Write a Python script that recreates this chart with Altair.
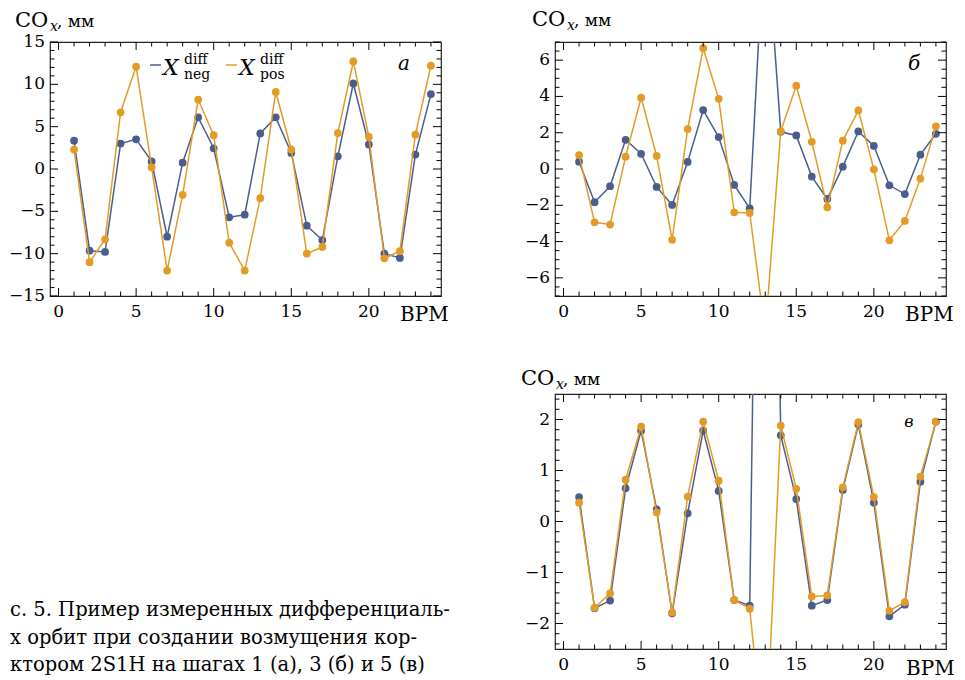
import altair as alt
import pandas as pd

# ---------------- data ----------------
bpm = list(range(1, 25))

a_neg = [3.35, -9.65, -9.8, 3.0, 3.5, 0.9, -8.0, 0.75, 6.1, 2.45, -5.7, -5.4,
         4.2, 6.1, 1.9, -6.7, -8.4, 1.5, 10.1, 2.9, -10.0, -10.5, 1.7, 8.85]
a_pos = [2.3, -11.0, -8.3, 6.7, 12.1, 0.2, -12.0, -3.05, 8.2, 4.0, -8.7, -12.0,
         -3.45, 9.1, 2.3, -10.0, -9.2, 4.25, 12.7, 3.8, -10.55, -9.7, 4.05, 12.2]

b_neg = [0.4, -1.83, -0.95, 1.61, 0.84, -0.99, -1.98, 0.39, 3.25, 1.76, -0.88, -2.17,
         14.0, 2.05, 1.85, -0.42, -1.65, 0.13, 2.07, 1.27, -0.9, -1.38, 0.79, 1.94]
b_pos = [0.77, -2.94, -3.06, 0.68, 3.93, 0.72, -3.9, 2.2, 6.66, 3.87, -2.39, -2.42,
         -9.0, 2.09, 4.59, 1.5, -2.11, 1.56, 3.23, -0.02, -3.93, -2.86, -0.53, 2.35]

c_neg = [0.48, -1.70, -1.55, 0.65, 1.78, 0.24, -1.80, 0.16, 1.78, 0.60, -1.54, -1.65,
         20.0, 1.69, 0.44, -1.65, -1.54, 0.62, 1.90, 0.37, -1.86, -1.63, 0.78, 1.96]
c_pos = [0.37, -1.69, -1.41, 0.82, 1.86, 0.18, -1.78, 0.49, 1.96, 0.80, -1.54, -1.71,
         -4.7, 1.88, 0.64, -1.47, -1.45, 0.67, 1.95, 0.48, -1.75, -1.58, 0.88, 1.96]

x_domain = [-0.55, 24.65]
x_major = [0, 5, 10, 15, 20]
x_labels = ["0", "5", "10", "15", "20"]
x_minor = [v for v in range(0, 25) if v % 5 != 0]

a_ydom = [-15, 15]
a_ymaj = [-15, -10, -5, 0, 5, 10, 15]
a_ylab = ["−15", "−10", "−5", "0", "5", "10", "15"]
a_ymin = [v for v in range(-15, 16) if v % 5 != 0]

b_ydom = [-7, 7]
b_ymaj = [-6, -4, -2, 0, 2, 4, 6]
b_ylab = ["−6", "−4", "−2", "0", "2", "4", "6"]
b_ymin = [v / 2 for v in range(-14, 15) if v % 4 != 0]

c_ydom = [-2.5, 2.5]
c_ymaj = [-2, -1, 0, 1, 2]
c_ylab = ["−2", "−1", "0", "1", "2"]
c_ymin = [round(v / 5, 1) for v in range(-12, 13) if v % 5 != 0]

caption = ["с. 5. Пример измеренных дифференциаль-",
           "х орбит при создании возмущения кор-",
           "ктором 2S1H на шагах 1 (а), 3 (б) и 5 (в)"]

SERIF = "DejaVu Serif"
BLUE = "#4A5E8E"
ORANGE = "#E39B26"
MAJ, MIN = 8, 4.5
FS = 17

dummy = pd.DataFrame({"d": [0]})


def txt(s, x, y, size, italic=False, color="black", align="left"):
    return alt.Chart(dummy).mark_text(
        text=s, font=SERIF, fontSize=size, fontStyle="italic" if italic else "normal",
        align=align, baseline="alphabetic", color=color
    ).encode(x=alt.value(x), y=alt.value(y))


def panel(neg, pos, ydom, ymaj, ylab, ymin_, w, h, title_dx, letter, letter_xy, letter_size,
          bpm_xy, legend=False):
    xs = alt.Scale(domain=x_domain, nice=False, zero=False)
    ys = alt.Scale(domain=ydom, nice=False, zero=False)
    X = lambda f: alt.X(f, scale=xs, axis=None)
    Y = lambda f: alt.Y(f, scale=ys, axis=None)
    dn = pd.DataFrame({"bpm": bpm, "v": neg})
    dp = pd.DataFrame({"bpm": bpm, "v": pos})
    layers = []
    for d, col in [(dn, BLUE), (dp, ORANGE)]:
        layers.append(alt.Chart(d).mark_line(clip=True, color=col, strokeWidth=1.5).encode(
            x=X("bpm:Q"), y=Y("v:Q")))
        layers.append(alt.Chart(d).mark_circle(clip=True, color=col, size=60, opacity=1).encode(
            x=X("bpm:Q"), y=Y("v:Q")))
    # frame ticks (inward)
    for vals, L in [(ymaj, MAJ), (ymin_, MIN)]:
        df = pd.DataFrame({"v": vals, "x0": x_domain[0], "x1": x_domain[1]})
        layers.append(alt.Chart(df).mark_rule(x2Offset=L, color="black", strokeWidth=1).encode(
            x=X("x0:Q"), x2="x0:Q", y=Y("v:Q")))
        layers.append(alt.Chart(df).mark_rule(x2Offset=-L, color="black", strokeWidth=1).encode(
            x=X("x1:Q"), x2="x1:Q", y=Y("v:Q")))
    for vals, L in [(x_major, MAJ), (x_minor, MIN)]:
        df = pd.DataFrame({"u": vals, "y0": ydom[0], "y1": ydom[1]})
        layers.append(alt.Chart(df).mark_rule(y2Offset=-L, color="black", strokeWidth=1).encode(
            y=Y("y0:Q"), y2="y0:Q", x=X("u:Q")))
        layers.append(alt.Chart(df).mark_rule(y2Offset=L, color="black", strokeWidth=1).encode(
            y=Y("y1:Q"), y2="y1:Q", x=X("u:Q")))
    # tick labels
    dxl = pd.DataFrame({"u": x_major, "lab": x_labels})
    layers.append(alt.Chart(dxl).mark_text(font=SERIF, fontSize=FS, baseline="top",
                                           align="center", color="black").encode(
        x=X("u:Q"), y=alt.value(h + 8), text="lab:N"))
    dyl = pd.DataFrame({"v": ymaj, "lab": ylab})
    layers.append(alt.Chart(dyl).mark_text(font=SERIF, fontSize=FS, baseline="middle",
                                           align="right", color="black").encode(
        y=Y("v:Q"), x=alt.value(-5), text="lab:N"))
    # title CO_x, мм
    tx, ty = title_dx
    layers.append(txt("CO", tx, ty, 21))
    layers.append(txt("x", tx + 35, ty + 4, 14, italic=True))
    layers.append(txt(", мм", tx + 42, ty, 17))
    # BPM label
    layers.append(txt("BPM", bpm_xy[0], bpm_xy[1], 20))
    # panel letter
    layers.append(txt(letter, letter_xy[0], letter_xy[1], letter_size, italic=True, align="center"))
    if legend:
        for x1, col, sub in [(100, BLUE, "neg"), (176, ORANGE, "pos")]:
            layers.append(alt.Chart(dummy).mark_rule(color=col, strokeWidth=1.5).encode(
                x=alt.value(x1), x2=alt.value(x1 + 11), y=alt.value(23)))
            layers.append(txt("X", x1 + 13, 33, 22, italic=True))
            layers.append(txt("diff", x1 + 34, 22, 14))
            layers.append(txt(sub, x1 + 34, 37, 14))
    return alt.layer(*layers).properties(width=w, height=h)


pa = panel(a_neg, a_pos, a_ydom, a_ymaj, a_ylab, a_ymin, 391, 254, (-35, -15), "а", (354, 28), 20,
           (350, 279), legend=True)
pb = panel(b_neg, b_pos, b_ydom, b_ymaj, b_ylab, b_ymin, 391, 254, (-23, -16), "б", (359, 28), 20,
           (350, 279))
pc = panel(c_neg, c_pos, c_ydom, c_ymaj, c_ylab, c_ymin, 391, 255, (-34, -9), "в", (354, 33), 16,
           (351, 281))

cap_layers = [txt(s, -40, 222 + 27.5 * i, 19.5) for i, s in enumerate(caption)]
cap = alt.layer(*cap_layers).properties(width=391, height=255,
                                        view=alt.ViewBackground(strokeOpacity=0))

chart = alt.concat(
    pa, pb, cap, pc, columns=2, spacing={"row": 98, "column": 114}, bounds="flush"
).properties(padding={"left": 0, "top": 0, "right": 0, "bottom": 0}).configure_view(
    stroke="#222222", strokeWidth=1.2
)

chart.save("out.html", embed_options={"renderer": "svg", "actions": False})
